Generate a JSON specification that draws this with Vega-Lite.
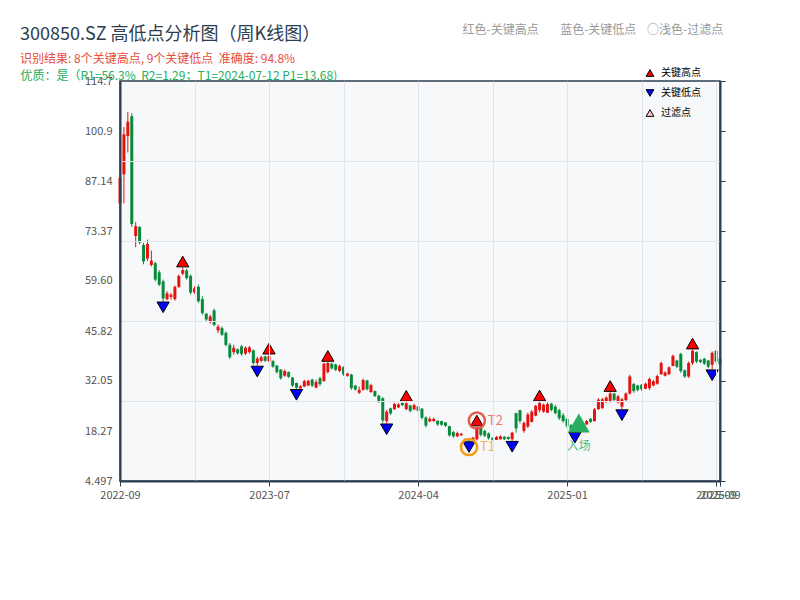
{
  "$schema": "https://vega.github.io/schema/vega-lite/v6.json",
  "width": 600,
  "height": 400,
  "autosize": "none",
  "padding": {"left": 120, "top": 81, "right": 80, "bottom": 119},
  "background": "white",
  "view": {"fill": "#f7f8fa", "stroke": "#2c3e50", "strokeWidth": 1.5},
  "config": {"font": "Noto Sans CJK SC"},
  "title": {
    "text": "300850.SZ 高低点分析图（周K线图）",
    "subtitle": "识别结果: 8个关键高点, 9个关键低点\u00a0\u00a0准确度: 94.8%",
    "anchor": "start",
    "frame": "group",
    "dx": -100,
    "dy": 56,
    "offset": 14,
    "fontSize": 18,
    "fontWeight": "normal",
    "color": "#2c3e50",
    "font": "Noto Sans CJK SC",
    "subtitleFontSize": 12,
    "subtitleColor": "#e74c3c",
    "subtitleFont": "Noto Sans CJK SC",
    "subtitlePadding": 10
  },
  "data": {
    "values": [
      {"d": "2022-09-30", "o": 81, "h": 89, "l": 80, "c": 88},
      {"d": "2022-10-14", "o": 89, "h": 102, "l": 81, "c": 100},
      {"d": "2022-10-21", "o": 99.5, "h": 106.1, "l": 95, "c": 103.5},
      {"d": "2022-10-28", "o": 105, "h": 105.8, "l": 74.5, "c": 75.3},
      {"d": "2022-11-04", "o": 72, "h": 75.8, "l": 68.9, "c": 74.7},
      {"d": "2022-11-11", "o": 74.5, "h": 74.7, "l": 69.7, "c": 70.2},
      {"d": "2022-11-18", "o": 69.5, "h": 70.1, "l": 64.2, "c": 65},
      {"d": "2022-11-25", "o": 65.8, "h": 71, "l": 65.1, "c": 69.8},
      {"d": "2022-12-02", "o": 64, "h": 68, "l": 63.6, "c": 65.2},
      {"d": "2022-12-09", "o": 64.5, "h": 64.9, "l": 59.5, "c": 60},
      {"d": "2022-12-16", "o": 62, "h": 62.6, "l": 58.2, "c": 58.6},
      {"d": "2022-12-23", "o": 59.5, "h": 60, "l": 54, "c": 54.8, "p": "关键低点"},
      {"d": "2022-12-30", "o": 54.6, "h": 56.8, "l": 54.3, "c": 56.2},
      {"d": "2023-01-06", "o": 55.2, "h": 56.3, "l": 54.5, "c": 55.8},
      {"d": "2023-01-13", "o": 54.6, "h": 58.3, "l": 54.2, "c": 58},
      {"d": "2023-01-20", "o": 58, "h": 61.4, "l": 57.7, "c": 61},
      {"d": "2023-02-03", "o": 61.6, "h": 63.3, "l": 61.2, "c": 62.6, "p": "关键高点"},
      {"d": "2023-02-10", "o": 62.5, "h": 63, "l": 60, "c": 60.4},
      {"d": "2023-02-17", "o": 61, "h": 61.4, "l": 55.9, "c": 56.4},
      {"d": "2023-02-24", "o": 56.5, "h": 58.1, "l": 56.1, "c": 57.6},
      {"d": "2023-03-03", "o": 58, "h": 58.6, "l": 53.6, "c": 54},
      {"d": "2023-03-10", "o": 54.6, "h": 55.4, "l": 50.3, "c": 50.8},
      {"d": "2023-03-17", "o": 50.6, "h": 50.8, "l": 48.5, "c": 49},
      {"d": "2023-03-24", "o": 48.5, "h": 50.3, "l": 47.8, "c": 49.8},
      {"d": "2023-03-31", "o": 51.5, "h": 52, "l": 47.1, "c": 47.5},
      {"d": "2023-04-07", "o": 46, "h": 47.6, "l": 45.3, "c": 47},
      {"d": "2023-04-14", "o": 46.6, "h": 47.1, "l": 44.4, "c": 44.8},
      {"d": "2023-04-21", "o": 45.3, "h": 45.7, "l": 41.6, "c": 42},
      {"d": "2023-04-28", "o": 42, "h": 42.5, "l": 38.1, "c": 38.6},
      {"d": "2023-05-05", "o": 40, "h": 42, "l": 39.3, "c": 41.2},
      {"d": "2023-05-12", "o": 40.8, "h": 41, "l": 39.3, "c": 39.7},
      {"d": "2023-05-19", "o": 41.6, "h": 42, "l": 39, "c": 39.5},
      {"d": "2023-05-26", "o": 39.6, "h": 41.6, "l": 39.2, "c": 41.2},
      {"d": "2023-06-02", "o": 40, "h": 41.7, "l": 39.6, "c": 41.3},
      {"d": "2023-06-09", "o": 40.5, "h": 40.7, "l": 36.5, "c": 37},
      {"d": "2023-06-16", "o": 37, "h": 38.7, "l": 36.3, "c": 38.2, "p": "关键低点"},
      {"d": "2023-06-21", "o": 37.6, "h": 39, "l": 37.2, "c": 38.6},
      {"d": "2023-06-30", "o": 38.8, "h": 39, "l": 37.3, "c": 37.6},
      {"d": "2023-07-07", "o": 37.5, "h": 39.3, "l": 37.2, "c": 38.9, "p": "关键高点"},
      {"d": "2023-07-14", "o": 37.6, "h": 37.7, "l": 35.7, "c": 36},
      {"d": "2023-07-21", "o": 36.3, "h": 36.4, "l": 34.1, "c": 34.5},
      {"d": "2023-07-28", "o": 35.2, "h": 35.3, "l": 32.4, "c": 32.8},
      {"d": "2023-08-04", "o": 33.5, "h": 35.2, "l": 33.2, "c": 34.8},
      {"d": "2023-08-11", "o": 34.5, "h": 34.7, "l": 32.9, "c": 33.2},
      {"d": "2023-08-18", "o": 33, "h": 33.1, "l": 30.4, "c": 30.8},
      {"d": "2023-08-25", "o": 31.5, "h": 31.6, "l": 29.9, "c": 30.2, "p": "关键低点"},
      {"d": "2023-09-01", "o": 30, "h": 30.9, "l": 30, "c": 30.6},
      {"d": "2023-09-08", "o": 30.5, "h": 32.4, "l": 30.4, "c": 32},
      {"d": "2023-09-15", "o": 30.8, "h": 32.4, "l": 30.7, "c": 32.1},
      {"d": "2023-09-22", "o": 32.4, "h": 32.7, "l": 30.4, "c": 30.8},
      {"d": "2023-09-28", "o": 30.2, "h": 32.4, "l": 30.1, "c": 31.8},
      {"d": "2023-10-13", "o": 32.8, "h": 33.2, "l": 30.7, "c": 31.2},
      {"d": "2023-10-20", "o": 32, "h": 37.1, "l": 31.9, "c": 36.8},
      {"d": "2023-10-27", "o": 34.5, "h": 37.3, "l": 34.1, "c": 37, "p": "关键高点"},
      {"d": "2023-11-03", "o": 36.8, "h": 37.1, "l": 35.2, "c": 35.5},
      {"d": "2023-11-10", "o": 36.6, "h": 36.8, "l": 34.8, "c": 35.1},
      {"d": "2023-11-17", "o": 34.8, "h": 36.6, "l": 34.5, "c": 36.2},
      {"d": "2023-11-24", "o": 35.8, "h": 36.1, "l": 33.5, "c": 33.9},
      {"d": "2023-12-01", "o": 33.5, "h": 34.3, "l": 33.2, "c": 34.1},
      {"d": "2023-12-08", "o": 33.8, "h": 34, "l": 29.6, "c": 30.1},
      {"d": "2023-12-15", "o": 30.8, "h": 31, "l": 29.4, "c": 29.7},
      {"d": "2023-12-22", "o": 28.8, "h": 30.5, "l": 28.5, "c": 29.6},
      {"d": "2023-12-29", "o": 29.6, "h": 32.7, "l": 29.4, "c": 32.3},
      {"d": "2024-01-05", "o": 32.2, "h": 32.4, "l": 29.4, "c": 29.8},
      {"d": "2024-01-12", "o": 29, "h": 31.3, "l": 28.8, "c": 30.9},
      {"d": "2024-01-19", "o": 29.3, "h": 29.4, "l": 27.6, "c": 27.9},
      {"d": "2024-01-26", "o": 28, "h": 28.2, "l": 26, "c": 26.4},
      {"d": "2024-02-02", "o": 27.3, "h": 27.6, "l": 20.6, "c": 21.2},
      {"d": "2024-02-08", "o": 21, "h": 24.1, "l": 20.4, "c": 23.6, "p": "关键低点"},
      {"d": "2024-02-23", "o": 24.5, "h": 24.7, "l": 22.7, "c": 23.1},
      {"d": "2024-03-01", "o": 24.3, "h": 26, "l": 24.1, "c": 25.7},
      {"d": "2024-03-08", "o": 24.8, "h": 25.9, "l": 24.6, "c": 25.6},
      {"d": "2024-03-15", "o": 26, "h": 26.1, "l": 25.2, "c": 25.4},
      {"d": "2024-03-22", "o": 24.3, "h": 26.3, "l": 24, "c": 25.9, "p": "关键高点"},
      {"d": "2024-03-29", "o": 25.3, "h": 25.5, "l": 23.4, "c": 23.8},
      {"d": "2024-04-03", "o": 24.2, "h": 25.8, "l": 24.1, "c": 25.4},
      {"d": "2024-04-12", "o": 25, "h": 25.2, "l": 23.6, "c": 23.9},
      {"d": "2024-04-19", "o": 24.4, "h": 24.6, "l": 21.5, "c": 21.9},
      {"d": "2024-04-26", "o": 22, "h": 22.3, "l": 19.3, "c": 19.8},
      {"d": "2024-04-30", "o": 20.9, "h": 22.2, "l": 20.7, "c": 21.6},
      {"d": "2024-05-10", "o": 21, "h": 22, "l": 20.8, "c": 21.6},
      {"d": "2024-05-17", "o": 21.1, "h": 21.2, "l": 19.7, "c": 20.1},
      {"d": "2024-05-24", "o": 21, "h": 21.1, "l": 19.7, "c": 20},
      {"d": "2024-05-31", "o": 20.6, "h": 20.8, "l": 19.4, "c": 19.7},
      {"d": "2024-06-07", "o": 19.6, "h": 19.7, "l": 16.7, "c": 17.1},
      {"d": "2024-06-14", "o": 18, "h": 18.3, "l": 16.4, "c": 16.8},
      {"d": "2024-06-21", "o": 16.8, "h": 18.1, "l": 16.6, "c": 17.7},
      {"d": "2024-06-28", "o": 17.1, "h": 17.8, "l": 16.9, "c": 17.5},
      {"d": "2024-07-05", "o": 15.8, "h": 16.2, "l": 15.7, "c": 16.1},
      {"d": "2024-07-12", "o": 16.1, "h": 16.4, "l": 15.5, "c": 15.7, "p": "关键低点", "t": "T1"},
      {"d": "2024-07-19", "o": 15.7, "h": 16.7, "l": 15.6, "c": 16.4},
      {"d": "2024-07-26", "o": 16, "h": 19.5, "l": 15.7, "c": 19.1, "p": "关键高点", "t": "T2"},
      {"d": "2024-08-02", "o": 19.1, "h": 19.2, "l": 16.8, "c": 17.2},
      {"d": "2024-08-09", "o": 18.3, "h": 18.6, "l": 16.6, "c": 17},
      {"d": "2024-08-16", "o": 17.6, "h": 17.9, "l": 15.9, "c": 16.3},
      {"d": "2024-08-23", "o": 16.4, "h": 16.5, "l": 15.7, "c": 15.9},
      {"d": "2024-08-30", "o": 15.8, "h": 16.9, "l": 15.75, "c": 16.6},
      {"d": "2024-09-06", "o": 16, "h": 17.1, "l": 15.9, "c": 16.8},
      {"d": "2024-09-13", "o": 16.7, "h": 16.9, "l": 15.8, "c": 16},
      {"d": "2024-09-20", "o": 16.6, "h": 16.8, "l": 15.8, "c": 16.1},
      {"d": "2024-09-27", "o": 16, "h": 18.1, "l": 15.6, "c": 17.8, "p": "关键低点"},
      {"d": "2024-09-30", "o": 23.2, "h": 23.3, "l": 17.8, "c": 19},
      {"d": "2024-10-11", "o": 24, "h": 24.1, "l": 20.4, "c": 21},
      {"d": "2024-10-18", "o": 18.3, "h": 20.9, "l": 17.8, "c": 20.5},
      {"d": "2024-10-25", "o": 19.5, "h": 23.3, "l": 19.1, "c": 22.8},
      {"d": "2024-11-01", "o": 20.8, "h": 24, "l": 20.6, "c": 23.6},
      {"d": "2024-11-08", "o": 22.5, "h": 25.5, "l": 22.3, "c": 25.2},
      {"d": "2024-11-15", "o": 24, "h": 26.4, "l": 23.4, "c": 26, "p": "关键高点"},
      {"d": "2024-11-22", "o": 23.6, "h": 25.8, "l": 23.3, "c": 25.5},
      {"d": "2024-11-29", "o": 23.3, "h": 26.1, "l": 23.2, "c": 25.7},
      {"d": "2024-12-06", "o": 25.8, "h": 26, "l": 23.7, "c": 24.1},
      {"d": "2024-12-13", "o": 25, "h": 25.5, "l": 22.8, "c": 23.2},
      {"d": "2024-12-20", "o": 24, "h": 24.4, "l": 21.3, "c": 21.8},
      {"d": "2024-12-27", "o": 22.6, "h": 23.2, "l": 20.6, "c": 21},
      {"d": "2025-01-03", "o": 21.6, "h": 21.9, "l": 19.1, "c": 19.6},
      {"d": "2025-01-10", "o": 19.8, "h": 20.2, "l": 18.4, "c": 18.8},
      {"d": "2025-01-17", "o": 18.6, "h": 19.6, "l": 18.1, "c": 19.2, "p": "关键低点"},
      {"d": "2025-01-24", "o": 19.2, "h": 20.8, "l": 19, "c": 20.5, "e": "入场"},
      {"d": "2025-01-27", "o": 19.8, "h": 20, "l": 18.6, "c": 19.1},
      {"d": "2025-02-07", "o": 20.1, "h": 21.3, "l": 19.9, "c": 21},
      {"d": "2025-02-14", "o": 21.6, "h": 21.9, "l": 20.5, "c": 20.8},
      {"d": "2025-02-21", "o": 21, "h": 24.6, "l": 20.9, "c": 24.2},
      {"d": "2025-02-28", "o": 24.3, "h": 27.3, "l": 24.1, "c": 26.9},
      {"d": "2025-03-07", "o": 24.6, "h": 27.4, "l": 24.3, "c": 27},
      {"d": "2025-03-14", "o": 26.3, "h": 27.8, "l": 26, "c": 27.5},
      {"d": "2025-03-21", "o": 26.4, "h": 29, "l": 26.1, "c": 28.6, "p": "关键高点"},
      {"d": "2025-03-28", "o": 28.6, "h": 28.8, "l": 26.4, "c": 26.8},
      {"d": "2025-04-03", "o": 26.2, "h": 28.2, "l": 25.8, "c": 27.8},
      {"d": "2025-04-11", "o": 25, "h": 27.4, "l": 24.3, "c": 27, "p": "关键低点"},
      {"d": "2025-04-18", "o": 26.8, "h": 28.9, "l": 26.4, "c": 28.6},
      {"d": "2025-04-25", "o": 28.6, "h": 33.8, "l": 28.3, "c": 33.3},
      {"d": "2025-04-30", "o": 31.2, "h": 31.5, "l": 28.8, "c": 29.3},
      {"d": "2025-05-09", "o": 30.8, "h": 31, "l": 29.2, "c": 29.6},
      {"d": "2025-05-16", "o": 31, "h": 31.2, "l": 29.4, "c": 29.8},
      {"d": "2025-05-23", "o": 29.9, "h": 31.6, "l": 29.8, "c": 31.3},
      {"d": "2025-05-30", "o": 30.1, "h": 33, "l": 29.6, "c": 32.6},
      {"d": "2025-06-06", "o": 30.8, "h": 32.3, "l": 30.6, "c": 32},
      {"d": "2025-06-13", "o": 31.3, "h": 33.8, "l": 31, "c": 33.4},
      {"d": "2025-06-20", "o": 33.9, "h": 37.4, "l": 33.8, "c": 37},
      {"d": "2025-06-27", "o": 33.5, "h": 34.7, "l": 33.3, "c": 34.4},
      {"d": "2025-07-04", "o": 33.9, "h": 36.1, "l": 33.7, "c": 35.8},
      {"d": "2025-07-11", "o": 36.2, "h": 39.3, "l": 36.1, "c": 39},
      {"d": "2025-07-18", "o": 37.7, "h": 37.9, "l": 35.6, "c": 36},
      {"d": "2025-07-25", "o": 39.5, "h": 39.8, "l": 34.3, "c": 34.8},
      {"d": "2025-08-01", "o": 35, "h": 35.2, "l": 32.9, "c": 33.3},
      {"d": "2025-08-08", "o": 33.3, "h": 37.4, "l": 32.9, "c": 37},
      {"d": "2025-08-15", "o": 37, "h": 40.7, "l": 36.5, "c": 40.4, "p": "关键高点"},
      {"d": "2025-08-22", "o": 40, "h": 40.2, "l": 37, "c": 37.4},
      {"d": "2025-08-29", "o": 37.9, "h": 38, "l": 37, "c": 37.3},
      {"d": "2025-09-05", "o": 38.2, "h": 38.4, "l": 36.5, "c": 36.8},
      {"d": "2025-09-12", "o": 37.7, "h": 37.9, "l": 35.6, "c": 36},
      {"d": "2025-09-19", "o": 36.5, "h": 40.2, "l": 35.3, "c": 39.8, "p": "关键低点"},
      {"d": "2025-09-26", "o": 40.4, "h": 40.6, "l": 37, "c": 37.4},
      {"d": "2025-09-30", "o": 38.2, "h": 38.4, "l": 36.1, "c": 36.6}
    ]
  },
  "encoding": {
    "x": {
      "field": "d",
      "type": "ordinal",
      "scale": {"type": "point", "padding": 0},
      "axis": {
        "title": null,
        "values": ["2022-09-30", "2023-02-24", "2023-07-07", "2023-11-24", "2024-04-12", "2024-08-23", "2025-01-03", "2025-05-16", "2025-09-26", "2025-09-30"],
        "labelExpr": "indexof(['2022-09-30','2023-07-07','2024-04-12','2025-01-03','2025-09-26','2025-09-30'], datum.value) >= 0 ? slice(datum.value, 0, 7) : ''",
        "labelAngle": 0,
        "labelOverlap": false,
        "labelFlush": false,
        "labelColor": "#555555",
        "labelFontSize": 11,
        "labelFont": "Noto Sans CJK SC",
        "labelPadding": 3,
        "grid": true,
        "gridColor": "#e1e4ea",
        "gridWidth": 1,
        "gridOpacity": {"condition": {"test": "datum.value === '2022-09-30' || datum.value === '2025-09-30'", "value": 0}, "value": 1},
        "ticks": true,
        "tickSize": 5,
        "tickColor": "#2c3e50",
        "tickOpacity": {"condition": {"test": "indexof(['2022-09-30','2023-07-07','2024-04-12','2025-01-03','2025-09-26','2025-09-30'], datum.value) >= 0", "value": 1}, "value": 0},
        "domainColor": "#2c3e50",
        "domainWidth": 2,
        "zindex": 1
      }
    }
  },
  "layer": [
    {
      "mark": {"type": "rule", "strokeWidth": 1},
      "encoding": {
        "y": {
          "field": "l",
          "type": "quantitative",
          "scale": {"domain": [4.497, 114.7], "nice": false, "zero": false},
          "axis": {
            "orient": "left",
            "values": [4.497, 18.27, 26.54, 32.05, 45.82, 48.58, 59.6, 70.62, 73.37, 87.14, 92.66, 100.9, 114.7],
            "format": ".4r",
            "labelOverlap": false,
            "labelFlush": false,
            "labelColor": "#555555",
            "labelFontSize": 11,
            "labelFont": "Noto Sans CJK SC",
            "labelPadding": 8,
            "labelOpacity": {"condition": {"test": "indexof([26.54, 48.58, 70.62, 92.66], datum.value) >= 0", "value": 0}, "value": 1},
            "grid": true,
            "gridColor": "#e1e4ea",
            "gridWidth": 1,
            "gridOpacity": {"condition": {"test": "indexof([26.54, 48.58, 70.62, 92.66], datum.value) >= 0", "value": 1}, "value": 0},
            "ticks": false,
            "domainColor": "#2c3e50",
            "domainWidth": 2,
            "zindex": 1,
            "title": "优质：是（R1=56.3%\u00a0\u00a0R2=1.29；T1=2024-07-12 P1=13.68)",
            "titleAngle": 0,
            "titleAlign": "left",
            "titleBaseline": "alphabetic",
            "titleX": -100,
            "titleY": -2,
            "titleColor": "#27ae60",
            "titleFontSize": 12,
            "titleFontWeight": "normal",
            "titleFont": "Noto Sans CJK SC"
          }
        },
        "y2": {"field": "h"},
        "color": {"condition": {"test": "datum.c >= datum.o", "value": "#e3130f"}, "value": "#078a3a"}
      }
    },
    {
      "mark": {"type": "rule", "strokeWidth": 3},
      "encoding": {
        "y": {
          "field": "o",
          "type": "quantitative",
          "axis": {
            "orient": "right",
            "values": [4.497, 18.27, 32.05, 45.82, 59.6, 73.37, 87.14, 100.9, 114.7],
            "labels": false,
            "ticks": true,
            "tickSize": 5,
            "tickColor": "#2c3e50",
            "grid": false,
            "domainColor": "#2c3e50",
            "domainWidth": 2,
            "zindex": 1,
            "title": "红色-关键高点\u00a0\u00a0\u00a0\u00a0\u00a0\u00a0\u00a0\u00a0蓝色-关键低点\u00a0\u00a0\u00a0\u00a0○浅色-过滤点",
            "titleAngle": 0,
            "titleAlign": "left",
            "titleBaseline": "alphabetic",
            "titleX": -258,
            "titleY": -48,
            "titleColor": "#999999",
            "titleFontSize": 12,
            "titleFontWeight": "normal",
            "titleFont": "Noto Sans CJK SC"
          }
        },
        "y2": {"field": "c"},
        "color": {"condition": {"test": "datum.c >= datum.o", "value": "#e3130f"}, "value": "#078a3a"}
      }
    },
    {
      "transform": [{"filter": "datum.p === '关键高点'"}],
      "mark": {"type": "point", "filled": true, "stroke": "black", "strokeWidth": 1, "size": 150, "opacity": 1, "yOffset": -6},
      "encoding": {
        "y": {"field": "h", "type": "quantitative", "axis": null},
        "color": {
          "field": "p",
          "type": "nominal",
          "scale": {"domain": ["关键高点", "关键低点", "过滤点"], "range": ["#ff0000", "#0000ff", "#ffc8c8"]},
          "legend": {
            "title": null,
            "orient": "none",
            "legendX": 525,
            "legendY": -13,
            "labelFontSize": 10,
            "labelFont": "Noto Sans CJK SC",
            "labelColor": "#000000",
            "symbolSize": 60,
            "symbolStrokeColor": "#000000",
            "symbolStrokeWidth": 1,
            "rowPadding": 8,
            "labelOffset": 6,
            "encode": {"labels": {"update": {"fill": {"signal": "datum.label === '过滤点' ? '#999999' : '#000000'"}}}}
          }
        },
        "shape": {
          "field": "p",
          "type": "nominal",
          "scale": {"domain": ["关键高点", "关键低点", "过滤点"], "range": ["triangle-up", "triangle-down", "triangle-up"]}
        }
      }
    },
    {
      "transform": [{"filter": "datum.p === '关键低点'"}],
      "mark": {"type": "point", "filled": true, "stroke": "black", "strokeWidth": 1, "size": 150, "opacity": 1, "yOffset": 6},
      "encoding": {
        "y": {"field": "l", "type": "quantitative", "axis": null},
        "color": {"field": "p", "type": "nominal"},
        "shape": {"field": "p", "type": "nominal"}
      }
    },
    {
      "transform": [{"filter": "datum.t === 'T1'"}],
      "mark": {"type": "point", "shape": "circle", "filled": false, "stroke": "#f39c12", "strokeWidth": 2.5, "size": 260, "opacity": 1, "yOffset": 6},
      "encoding": {"y": {"field": "l", "type": "quantitative", "axis": null}}
    },
    {
      "transform": [{"filter": "datum.t === 'T2'"}],
      "mark": {"type": "point", "shape": "circle", "filled": false, "stroke": "#e74c3c", "strokeWidth": 2.5, "size": 260, "opacity": 0.9, "yOffset": -6},
      "encoding": {"y": {"field": "h", "type": "quantitative", "axis": null}}
    },
    {
      "transform": [{"filter": "datum.t === 'T1'"}],
      "mark": {"type": "text", "align": "left", "baseline": "middle", "dx": 11, "yOffset": 6, "fontSize": 13, "color": "#f39c12", "opacity": 0.75, "font": "Noto Sans CJK SC"},
      "encoding": {"y": {"field": "l", "type": "quantitative", "axis": null}, "text": {"field": "t"}}
    },
    {
      "transform": [{"filter": "datum.t === 'T2'"}],
      "mark": {"type": "text", "align": "left", "baseline": "middle", "dx": 11, "yOffset": -6, "fontSize": 13, "color": "#e74c3c", "opacity": 0.75, "font": "Noto Sans CJK SC"},
      "encoding": {"y": {"field": "h", "type": "quantitative", "axis": null}, "text": {"field": "t"}}
    },
    {
      "transform": [{"filter": "datum.e === '入场'"}],
      "mark": {"type": "point", "shape": "triangle-up", "filled": true, "color": "#27ae60", "size": 480, "opacity": 1},
      "encoding": {"y": {"field": "c", "type": "quantitative", "axis": null}}
    },
    {
      "transform": [{"filter": "datum.e === '入场'"}],
      "mark": {"type": "text", "align": "center", "baseline": "middle", "yOffset": 23, "fontSize": 12, "color": "#27ae60", "opacity": 0.8, "font": "Noto Sans CJK SC"},
      "encoding": {"y": {"field": "c", "type": "quantitative", "axis": null}, "text": {"field": "e"}}
    }
  ],
  "resolve": {"axis": {"y": "independent"}}
}
